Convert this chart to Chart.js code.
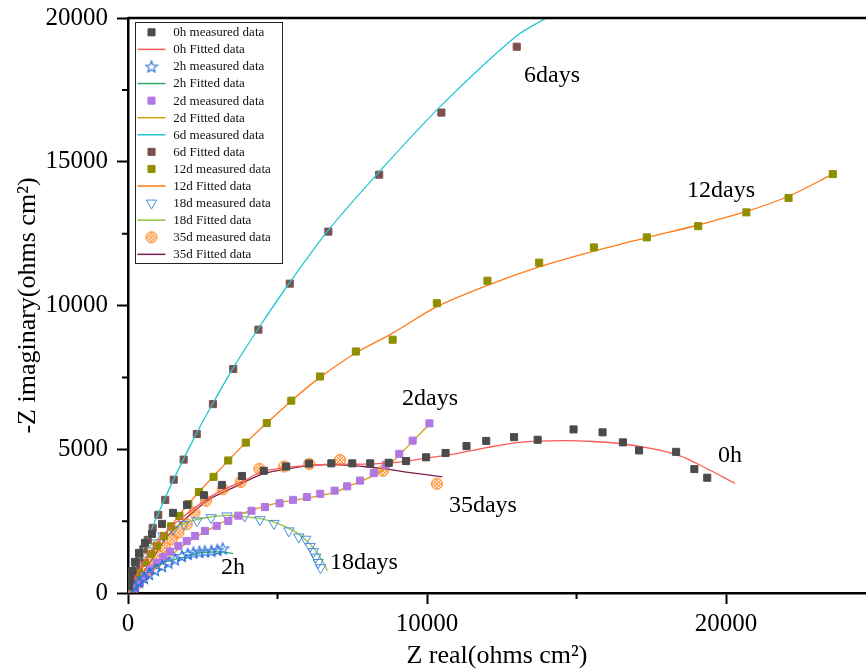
<!DOCTYPE html>
<html>
<head>
<meta charset="utf-8">
<title>Nyquist</title>
<script src="https://cdn.jsdelivr.net/npm/chart.js@4.4.1/dist/chart.umd.min.js"></script>
<style>
    html, body { margin: 0; padding: 0; background: #fff; }
    canvas { display: block; }
</style>
</head>
<body>
<canvas id="graficoNyquist" width="866" height="670"></canvas>
<script>
// valores (Z real, -Z imaginario)
const h0MedX = [33, 67, 134, 234, 368, 568, 803, 1137, 1505, 1973, 2540, 3140, 3810, 4540, 5290, 6050, 6800, 7500, 8100, 8720, 9300, 9970, 10620, 11320, 11980, 12910, 13700, 14900, 15870, 16550, 17090, 18330, 18940, 19370];
const h0MedY = [244, 488, 766, 1080, 1394, 1742, 2056, 2404, 2787, 3066, 3400, 3760, 4070, 4250, 4400, 4500, 4510, 4510, 4510, 4530, 4590, 4720, 4870, 5110, 5290, 5420, 5330, 5690, 5590, 5240, 4960, 4910, 4310, 4010];
const h0FitX = [0, 250, 680, 1200, 1800, 2900, 3860, 4520, 5640, 6760, 7870, 8990, 10100, 10880, 12000, 13110, 14560, 15560, 16450, 17570, 18460, 19240, 20300];
const h0FitY = [0, 560, 1350, 2050, 2620, 3440, 3900, 4230, 4400, 4480, 4480, 4540, 4710, 4830, 5060, 5240, 5300, 5270, 5200, 5010, 4770, 4390, 3810];

const h2MedX = [100, 234, 368, 535, 702, 903, 1137, 1350, 1570, 1800, 2000, 2190, 2390, 2570, 2790, 2990, 3170];
const h2MedY = [105, 244, 383, 523, 662, 801, 941, 1060, 1170, 1290, 1360, 1410, 1440, 1450, 1470, 1500, 1550];
const h2FitX = [0, 300, 700, 1200, 1850, 2410, 3000, 3190, 3520];
const h2FitY = [0, 420, 780, 1060, 1240, 1400, 1430, 1430, 1370];

const d2MedX = [234, 401, 568, 736, 960, 1180, 1404, 1682, 1963, 2240, 2575, 2966, 3354, 3690, 4130, 4580, 5070, 5520, 5980, 6430, 6910, 7330, 7760, 8220, 8620, 9070, 9520, 10080];
const d2MedY = [164, 359, 592, 826, 1056, 1254, 1439, 1637, 1812, 1986, 2160, 2334, 2508, 2690, 2860, 2990, 3120, 3240, 3340, 3450, 3560, 3710, 3910, 4170, 4460, 4840, 5300, 5900];
const d2FitX = [0, 400, 800, 1240, 1800, 2500, 3000, 3410, 4140, 5080, 5980, 6870, 7420, 8090, 8650, 9100, 9540, 10090];
const d2FitY = [0, 330, 720, 1120, 1620, 2090, 2360, 2600, 2880, 3150, 3300, 3490, 3730, 4020, 4370, 4830, 5300, 5880];

// no original a legenda do 6d esta trocada: "measured" e a linha, "Fitted" sao os pontos
const d6LinX = [0, 160, 520, 1010, 1530, 2300, 2840, 3520, 4360, 5410, 6700, 8400, 10480, 13000, 13990];
const d6LinY = [0, 700, 1560, 2760, 3960, 5570, 6600, 7830, 9200, 10800, 12620, 14650, 16960, 19380, 20000];
const d6PtsX = [33, 84, 157, 268, 378, 512, 659, 826, 1013, 1247, 1530, 1860, 2300, 2840, 3520, 4360, 5410, 6700, 8400, 10480, 13000];
const d6PtsY = [174, 418, 672, 965, 1230, 1522, 1847, 2265, 2718, 3240, 3940, 4640, 5530, 6570, 7790, 9160, 10760, 12570, 14550, 16710, 19000];

const d12MedX = [67, 201, 368, 568, 769, 970, 1204, 1440, 1720, 2020, 2370, 2860, 3350, 3940, 4640, 5460, 6420, 7620, 8850, 10330, 12020, 13750, 15580, 17350, 19070, 20680, 22090, 23570];
const d12MedY = [209, 453, 732, 1045, 1359, 1637, 1986, 2320, 2680, 3090, 3510, 4040, 4610, 5230, 5910, 6690, 7530, 8400, 8810, 10080, 10860, 11490, 12020, 12370, 12760, 13240, 13740, 14570];
const d12FitX = [0, 200, 570, 1000, 1440, 2020, 2860, 3940, 5460, 6420, 7620, 8850, 10330, 12020, 13750, 15580, 17350, 19070, 20680, 22090, 23570];
const d12FitY = [0, 450, 1060, 1700, 2330, 3100, 4060, 5230, 6680, 7500, 8350, 9040, 9960, 10700, 11340, 11890, 12360, 12800, 13270, 13800, 14570];

const d18MedX = [67, 167, 301, 468, 669, 903, 1170, 1505, 1873, 2307, 2780, 3310, 3900, 4410, 4880, 5380, 5710, 5940, 6090, 6200, 6280, 6360, 6440];
const d18MedY = [244, 523, 836, 1150, 1463, 1742, 1986, 2212, 2387, 2508, 2620, 2680, 2680, 2550, 2420, 2160, 1950, 1870, 1620, 1440, 1250, 1060, 880];
const d18FitX = [0, 200, 500, 1000, 1700, 2500, 3300, 3910, 4520, 5080, 5640, 6090, 6360, 6590, 6670];
const d18FitY = [0, 650, 1300, 1900, 2350, 2600, 2700, 2660, 2570, 2390, 2100, 1700, 1350, 940, 770];

const d35MedX = [124, 291, 458, 625, 793, 1013, 1237, 1461, 1682, 1963, 2220, 2610, 3170, 3770, 4390, 5220, 6060, 7090, 8520, 10330];
const d35MedY = [70, 303, 533, 766, 1000, 1289, 1578, 1871, 2101, 2393, 2800, 3210, 3610, 3860, 4320, 4400, 4490, 4630, 4250, 3800];
const d35FitX = [0, 625, 1290, 1960, 2740, 3410, 4520, 5640, 6200, 7090, 7870, 8650, 9430, 10510];
const d35FitY = [0, 880, 1930, 2620, 3270, 3610, 4140, 4370, 4450, 4460, 4400, 4310, 4190, 4040];

// ticks dos eixos
const ticksX = [0, 5000, 10000, 15000, 20000];
const ticksY = [0, 2500, 5000, 7500, 10000, 12500, 15000, 17500, 20000];

// rotulos escritos dentro do grafico
const rotuloTexto = ['6days', '12days', '2days', '0h', '35days', '18days', '2h'];
const rotuloX = [14180, 19830, 10100, 20130, 11870, 7890, 3510];
const rotuloY = [18010, 14010, 6760, 4770, 3030, 1045, 870];

const fonte = "'Liberation Serif', 'Times New Roman', serif";

function pontos(xs, ys) {
    return xs.map((x, i) => ({ x: x, y: ys[i] }));
}

function criarEstrela(cor) {
    const c = document.createElement('canvas');
    c.width = 14;
    c.height = 14;
    const g = c.getContext('2d');
    g.strokeStyle = cor;
    g.lineWidth = 1.1;
    g.beginPath();
    for (let i = 0; i < 10; i++) {
        const r = i % 2 === 0 ? 6 : 2.6;
        const a = -Math.PI / 2 + i * Math.PI / 5;
        const px = 7 + r * Math.cos(a);
        const py = 7.6 + r * Math.sin(a);
        if (i === 0) g.moveTo(px, py); else g.lineTo(px, py);
    }
    g.closePath();
    g.stroke();
    return c;
}

function criarHachura(cor) {
    const c = document.createElement('canvas');
    c.width = 14;
    c.height = 14;
    const g = c.getContext('2d');
    g.strokeStyle = cor;
    g.lineWidth = 1;
    g.beginPath();
    g.arc(7, 7, 5.4, 0, Math.PI * 2);
    g.stroke();
    g.save();
    g.beginPath();
    g.arc(7, 7, 5.4, 0, Math.PI * 2);
    g.clip();
    g.beginPath();
    for (let k = -7; k <= 7; k += 3.5) {
        g.moveTo(k - 1, -1); g.lineTo(k + 15, 15);
        g.moveTo(k + 15, -1); g.lineTo(k - 1, 15);
    }
    g.stroke();
    g.restore();
    return c;
}

function medido(label, xs, ys, estilo, cor, extra) {
    return Object.assign({
        label: label,
        data: pontos(xs, ys),
        showLine: false,
        pointStyle: estilo,
        pointRadius: 5,
        pointBackgroundColor: cor,
        pointBorderColor: cor,
        pointBorderWidth: 1,
        backgroundColor: cor,
        borderColor: cor
    }, extra || {});
}

function ajustado(label, xs, ys, cor) {
    return {
        label: label,
        data: pontos(xs, ys),
        showLine: true,
        borderColor: cor,
        backgroundColor: cor,
        borderWidth: 1.3,
        pointRadius: 0,
        tension: 0.3,
        fill: false
    };
}

const datasets = [
    medido('0h measured data', h0MedX, h0MedY, 'rect', '#4b4b4b'),
    ajustado('0h Fitted data', h0FitX, h0FitY, '#ff5858'),
    medido('2h measured data', h2MedX, h2MedY, criarEstrela('#2a6fdb'), '#2a6fdb'),
    ajustado('2h Fitted data', h2FitX, h2FitY, '#2fae68'),
    medido('2d measured data', d2MedX, d2MedY, 'rect', '#b277e3'),
    ajustado('2d Fitted data', d2FitX, d2FitY, '#d4a010'),
    ajustado('6d measured data', d6LinX, d6LinY, '#22c8d2'),
    medido('6d Fitted data', d6PtsX, d6PtsY, 'rect', '#7d5050'),
    medido('12d measured data', d12MedX, d12MedY, 'rect', '#8f8f00'),
    ajustado('12d Fitted data', d12FitX, d12FitY, '#ff7a1a'),
    medido('18d measured data', d18MedX, d18MedY, 'triangle', '#4a8fdb', {
        pointRadius: 6, pointRotation: 180, pointBackgroundColor: 'rgba(0,0,0,0)'
    }),
    ajustado('18d Fitted data', d18FitX, d18FitY, '#8dc63f'),
    medido('35d measured data', d35MedX, d35MedY, criarHachura('#ff7f0e'), '#ff7f0e'),
    ajustado('35d Fitted data', d35FitX, d35FitY, '#7a1f4f')
];

const decoracao = {
    id: 'decoracao',
    afterDraw(chart) {
        const ctx = chart.ctx;
        const area = chart.chartArea;
        const sx = chart.scales.x;
        const sy = chart.scales.y;
        ctx.save();

        // moldura de cima
        ctx.strokeStyle = '#000';
        ctx.lineWidth = 2.5;
        ctx.beginPath();
        ctx.moveTo(area.left, area.top);
        ctx.lineTo(area.right, area.top);
        ctx.stroke();

        // ticks menores
        ctx.lineWidth = 2;
        ctx.beginPath();
        sx.ticks.forEach(t => {
            if (t.value % 10000 !== 0) {
                const px = sx.getPixelForValue(t.value);
                ctx.moveTo(px, area.bottom);
                ctx.lineTo(px, area.bottom + 6);
            }
        });
        sy.ticks.forEach(t => {
            if (t.value % 5000 !== 0) {
                const py = sy.getPixelForValue(t.value);
                ctx.moveTo(area.left, py);
                ctx.lineTo(area.left - 6, py);
            }
        });
        ctx.stroke();

        // textos das curvas
        ctx.fillStyle = '#000';
        ctx.font = '24px ' + fonte;
        ctx.textAlign = 'center';
        ctx.textBaseline = 'middle';
        rotuloTexto.forEach((t, i) => {
            ctx.fillText(t, sx.getPixelForValue(rotuloX[i]), sy.getPixelForValue(rotuloY[i]));
        });

        // legenda
        const lx = 135, ly = 22, lw = 147, lh = 241;
        ctx.fillStyle = '#fff';
        ctx.fillRect(lx, ly, lw, lh);
        ctx.strokeStyle = '#222';
        ctx.lineWidth = 1;
        ctx.strokeRect(lx + 0.5, ly + 0.5, lw, lh);
        ctx.font = '13px ' + fonte;
        ctx.textAlign = 'left';
        chart.data.datasets.forEach((ds, i) => {
            const y = 32.3 + i * 17.08;
            if (ds.showLine) {
                ctx.strokeStyle = ds.borderColor;
                ctx.lineWidth = 1.5;
                ctx.beginPath();
                ctx.moveTo(137.5, y);
                ctx.lineTo(165.5, y);
                ctx.stroke();
            } else {
                ctx.fillStyle = ds.pointBackgroundColor;
                ctx.strokeStyle = ds.pointBorderColor;
                ctx.lineWidth = 1;
                Chart.helpers.drawPoint(ctx, {
                    pointStyle: ds.pointStyle,
                    radius: ds.pointRadius,
                    rotation: ds.pointRotation || 0,
                    borderWidth: 1
                }, 151.5, y);
            }
            ctx.fillStyle = '#111';
            ctx.fillText(ds.label, 173.3, y + 0.5);
        });
        ctx.restore();
    }
};

const fonteEixo = { family: fonte, size: 25 };
const fonteTitulo = { family: fonte, size: 26, lineHeight: 1.1 };

// sem folga extra das escalas: a area do grafico fica so pelo layout
function semFolga(scale) {
    scale.paddingTop = 0;
    scale.paddingBottom = 0;
    scale.paddingLeft = 0;
    scale.paddingRight = 0;
}

new Chart(document.getElementById('graficoNyquist').getContext('2d'), {
    type: 'scatter',
    data: { datasets: datasets },
    options: {
        responsive: false,
        animation: false,
        devicePixelRatio: 1,
        layout: { autoPadding: false, padding: { left: 0, top: 18, right: 0, bottom: 0 } },
        plugins: {
            legend: { display: false },
            tooltip: { enabled: false }
        },
        scales: {
            x: {
                type: 'linear',
                min: 0,
                max: 24680,
                afterBuildTicks: (scale) => { scale.ticks = ticksX.map(v => ({ value: v })); },
                afterFit: (scale) => { scale.height = 77; semFolga(scale); },
                border: { display: true, color: '#000', width: 2.5 },
                grid: {
                    drawOnChartArea: false,
                    drawTicks: true,
                    tickLength: 11,
                    tickColor: '#000',
                    tickWidth: (c) => (c.tick && c.tick.value % 10000 === 0 ? 2 : 0)
                },
                ticks: {
                    autoSkip: false,
                    maxRotation: 0,
                    padding: 5,
                    color: '#000',
                    font: fonteEixo,
                    callback: (v) => (v % 10000 === 0 ? String(v) : '')
                },
                title: {
                    display: true,
                    text: 'Z real(ohms cm²)',
                    color: '#000',
                    font: fonteTitulo,
                    padding: { top: 0, bottom: 0 }
                }
            },
            y: {
                type: 'linear',
                min: 0,
                max: 20000,
                afterBuildTicks: (scale) => { scale.ticks = ticksY.map(v => ({ value: v })); },
                afterFit: (scale) => { scale.width = 128; semFolga(scale); },
                border: { display: true, color: '#000', width: 2.5 },
                grid: {
                    drawOnChartArea: false,
                    drawTicks: true,
                    tickLength: 11,
                    tickColor: '#000',
                    tickWidth: (c) => (c.tick && c.tick.value % 5000 === 0 ? 2 : 0)
                },
                ticks: {
                    autoSkip: false,
                    padding: 9,
                    color: '#000',
                    font: fonteEixo,
                    callback: (v) => (v % 5000 === 0 ? String(v) : '')
                },
                title: {
                    display: true,
                    text: '-Z imaginary(ohms cm²)',
                    color: '#000',
                    font: fonteTitulo,
                    padding: { top: 14, bottom: 0 }
                }
            }
        }
    },
    plugins: [decoracao]
});
</script>
</body>
</html>
